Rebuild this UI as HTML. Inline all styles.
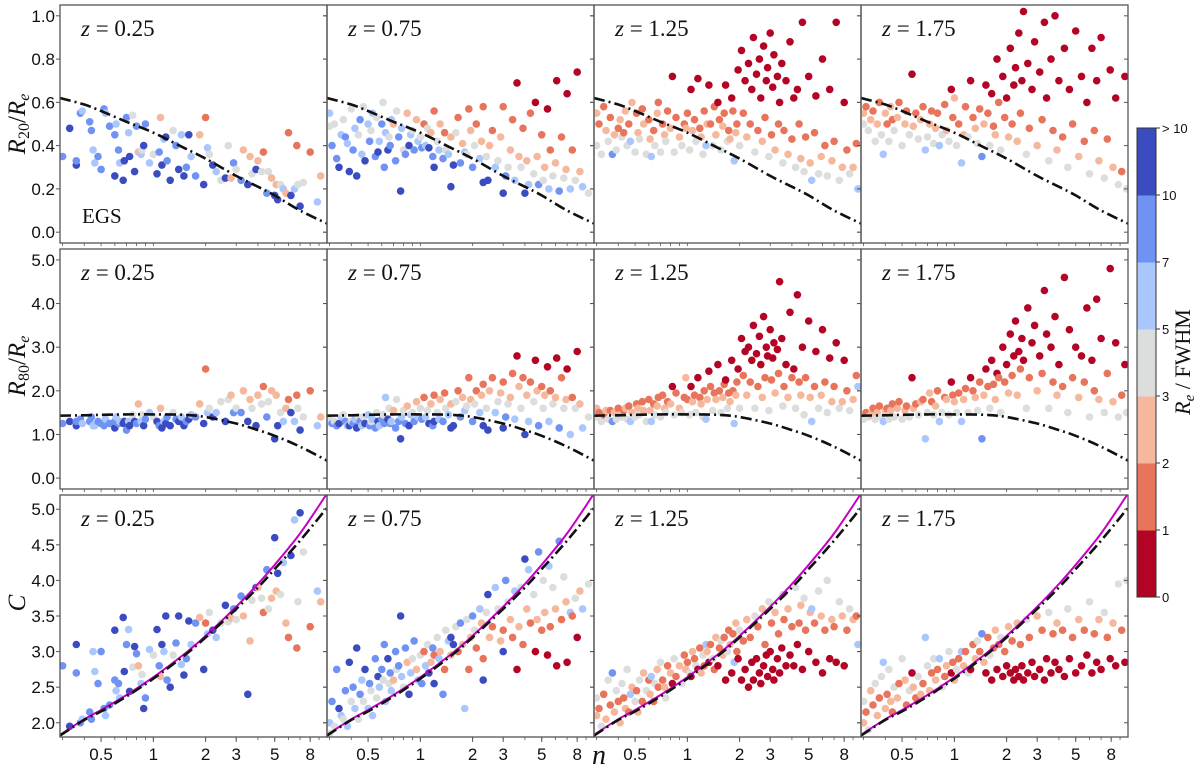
<!DOCTYPE html>
<html><head><meta charset="utf-8"><title>Sersic profile ratios</title>
<style>
html,body{margin:0;padding:0;background:#fff;}
svg{display:block;font-family:"Liberation Sans",sans-serif;}
.serif{font-family:"Liberation Serif",serif;}
</style></head>
<body>
<svg id="chart" width="1200" height="766" viewBox="0 0 1200 766" xmlns="http://www.w3.org/2000/svg"></svg>
<script>
// ---- data: [n, colourClass, R20/Re, R80/Re, C] ; colourClass 0:<1,1:1-2,2:2-3,3:3-5,4:5-7,5:7-10,6:>10
const col0 = [[0.3,5,0.35,1.25,2.8],[0.33,6,0.48,1.3,1.95],[0.36,6,0.31,1.2,3.1],[0.36,5,0.33,1.3,2.7],[0.38,5,0.55,1.35,2.0],[0.39,4,0.56,1.25,2.05],[0.43,5,0.51,1.3,2.15],[0.44,5,0.47,1.4,2.05],[0.45,4,0.38,1.2,3.0],[0.46,4,0.32,1.2,2.72],[0.48,5,0.35,1.3,2.55],[0.5,5,0.29,1.25,3.0],[0.52,5,0.57,1.2,2.2],[0.53,4,0.55,1.35,2.1],[0.56,5,0.49,1.25,2.25],[0.6,6,0.26,1.15,3.3],[0.6,5,0.45,1.3,2.6],[0.61,4,0.5,1.4,2.45],[0.63,5,0.38,1.25,2.55],[0.64,4,0.32,1.3,2.35],[0.67,6,0.24,1.25,3.48],[0.68,6,0.33,1.3,2.72],[0.7,5,0.53,1.1,3.1],[0.72,4,0.46,1.3,3.31],[0.73,6,0.35,1.2,2.44],[0.76,3,0.54,1.45,2.78],[0.78,6,0.28,1.3,3.07],[0.8,5,0.49,1.25,2.97],[0.82,2,0.37,1.7,2.8],[0.85,4,0.36,1.3,2.55],[0.86,3,0.38,1.45,2.68],[0.88,6,0.4,1.2,2.2],[0.9,5,0.5,1.35,2.35],[0.95,4,0.32,1.5,3.03],[1.0,3,0.36,1.4,2.95],[1.05,6,0.27,1.3,3.31],[1.08,5,0.37,1.2,2.8],[1.1,2,0.53,1.6,2.65],[1.12,6,0.31,1.15,3.1],[1.15,4,0.43,1.3,3.0],[1.18,6,0.44,1.25,3.5],[1.2,5,0.33,1.4,2.6],[1.25,6,0.24,1.2,2.5],[1.3,3,0.47,1.5,2.95],[1.35,5,0.4,1.35,3.12],[1.4,6,0.29,1.3,3.5],[1.45,4,0.45,1.4,2.82],[1.5,6,0.26,1.2,2.67],[1.55,5,0.3,1.3,2.9],[1.6,6,0.45,1.35,3.43],[1.65,4,0.35,1.45,3.1],[1.75,5,0.26,1.4,3.4],[1.85,2,0.45,1.7,3.48],[1.95,6,0.22,1.25,2.75],[2.0,1,0.53,2.5,3.4],[2.05,4,0.39,1.5,3.25],[2.1,3,0.36,1.6,3.55],[2.2,6,0.31,1.4,3.3],[2.3,4,0.28,1.5,3.2],[2.45,3,0.24,1.75,3.4],[2.6,6,0.25,1.3,3.65],[2.7,3,0.4,1.8,3.42],[2.8,2,0.25,1.9,3.47],[2.9,5,0.32,1.5,3.6],[3.0,3,0.29,1.6,3.45],[3.2,5,0.24,1.5,3.78],[3.3,2,0.38,2.0,3.5],[3.5,6,0.22,1.3,2.4],[3.6,2,0.35,1.8,3.15],[3.7,3,0.27,1.6,3.72],[3.9,6,0.29,1.2,3.9],[4.0,2,0.33,1.9,3.9],[4.2,3,0.28,1.7,3.75],[4.3,1,0.37,2.1,3.55],[4.5,5,0.18,1.4,4.15],[4.6,3,0.28,1.75,3.6],[4.8,2,0.25,2.0,3.75],[5.0,6,0.17,0.9,4.6],[5.1,2,0.22,1.9,3.85],[5.2,6,0.15,1.2,4.1],[5.4,3,0.22,1.5,3.8],[5.6,4,0.2,1.3,4.25],[5.8,2,0.18,1.6,3.4],[6.0,1,0.46,1.8,3.2],[6.2,6,0.17,1.5,4.35],[6.5,4,0.2,1.3,4.85],[6.7,1,0.4,1.9,3.05],[6.8,3,0.22,1.6,3.7],[7.0,6,0.12,1.1,4.95],[7.3,3,0.23,1.4,4.4],[8.0,1,0.37,2.0,3.35],[8.8,4,0.14,1.2,3.85],[9.2,2,0.26,1.4,3.7]];
const col1 = [[0.3,4,0.55,1.3,2.0],[0.3,3,0.49,1.35,1.85],[0.31,5,0.4,1.25,2.3],[0.32,3,0.5,1.3,1.95],[0.33,5,0.34,1.2,2.75],[0.34,6,0.3,1.25,2.2],[0.35,4,0.45,1.4,2.1],[0.36,3,0.52,1.45,2.05],[0.37,5,0.44,1.3,2.45],[0.38,4,0.41,1.2,1.95],[0.39,6,0.28,1.2,2.85],[0.4,3,0.57,1.3,2.3],[0.41,5,0.38,1.25,2.5],[0.42,4,0.48,1.35,2.2],[0.43,6,0.26,1.15,3.05],[0.44,3,0.45,1.4,2.05],[0.45,5,0.52,1.3,2.4],[0.46,4,0.36,1.2,2.6],[0.47,3,0.58,1.4,2.3],[0.48,6,0.33,1.25,2.75],[0.5,4,0.5,1.45,2.2],[0.51,5,0.42,1.2,2.55],[0.52,3,0.47,1.3,2.45],[0.53,4,0.55,1.35,2.1],[0.55,5,0.35,1.15,2.9],[0.56,3,0.53,1.5,2.35],[0.57,6,0.37,1.3,2.65],[0.58,4,0.42,1.2,2.5],[0.6,5,0.5,1.35,2.75],[0.61,3,0.6,1.45,2.6],[0.62,5,0.3,1.25,3.1],[0.63,4,0.46,1.85,2.3],[0.65,6,0.38,1.35,2.9],[0.66,3,0.44,1.6,2.55],[0.67,5,0.4,1.25,2.7],[0.68,4,0.52,1.3,2.45],[0.7,2,0.5,1.55,2.6],[0.72,5,0.33,1.15,3.0],[0.73,3,0.56,1.8,2.75],[0.75,5,0.44,1.3,2.8],[0.77,6,0.19,0.9,3.5],[0.78,4,0.48,1.4,2.65],[0.8,3,0.38,1.55,2.5],[0.82,5,0.36,1.25,3.05],[0.84,2,0.55,1.65,2.85],[0.86,6,0.4,1.2,2.4],[0.88,4,0.45,1.45,2.7],[0.9,3,0.47,1.5,2.9],[0.92,5,0.38,1.3,3.15],[0.95,2,0.52,1.75,2.75],[0.97,4,0.42,1.4,2.6],[1.0,3,0.44,1.6,2.95],[1.02,5,0.39,1.35,2.55],[1.05,1,0.5,1.85,3.0],[1.07,4,0.4,1.4,2.8],[1.1,3,0.48,1.55,3.1],[1.12,6,0.39,1.25,2.7],[1.15,2,0.46,1.7,2.85],[1.18,5,0.35,1.2,3.05],[1.2,1,0.56,1.9,2.95],[1.2,6,0.3,1.3,2.55],[1.25,3,0.42,1.5,3.2],[1.28,4,0.38,1.35,2.9],[1.3,2,0.5,1.8,3.0],[1.35,5,0.34,1.3,2.4],[1.38,1,0.46,1.95,2.75],[1.4,3,0.38,1.6,3.3],[1.45,4,0.36,1.45,3.15],[1.5,2,0.44,1.7,2.95],[1.5,6,0.21,1.15,3.2],[1.55,6,0.31,1.2,3.1],[1.6,3,0.46,1.75,3.35],[1.65,1,0.53,2.0,3.0],[1.7,5,0.32,1.4,3.4],[1.75,2,0.41,1.85,3.1],[1.8,4,0.37,1.55,2.2],[1.85,3,0.36,1.65,3.45],[1.9,1,0.57,2.3,2.75],[1.95,2,0.47,1.8,3.2],[2.0,5,0.3,1.3,3.5],[2.05,3,0.4,1.7,3.3],[2.1,1,0.5,2.0,3.05],[2.2,4,0.34,1.5,3.6],[2.25,2,0.42,1.9,3.4],[2.3,1,0.58,2.15,2.9],[2.3,6,0.23,1.2,2.6],[2.4,3,0.35,1.6,3.55],[2.45,6,0.24,1.1,3.8],[2.5,2,0.4,2.0,3.2],[2.6,1,0.47,2.3,3.35],[2.7,4,0.3,1.5,3.9],[2.8,3,0.33,1.75,3.6],[2.9,2,0.44,1.95,3.15],[3.0,1,0.58,2.2,3.3],[3.0,6,0.18,1.15,3.0],[3.1,5,0.26,1.4,4.0],[3.2,3,0.3,1.7,3.7],[3.3,2,0.38,1.85,3.45],[3.4,1,0.52,2.4,3.2],[3.5,4,0.24,1.35,3.85],[3.6,0,0.69,2.8,2.75],[3.7,2,0.35,2.1,3.35],[3.8,3,0.3,1.6,3.9],[3.9,1,0.48,2.3,3.1],[4.0,6,0.18,1.0,4.3],[4.1,2,0.33,1.9,3.6],[4.2,4,0.22,1.3,4.15],[4.3,1,0.55,2.2,3.4],[4.5,3,0.27,1.75,3.8],[4.6,0,0.6,2.7,3.0],[4.7,2,0.35,2.0,3.45],[4.8,5,0.22,1.2,4.4],[5.0,1,0.45,2.1,3.3],[5.1,3,0.24,1.6,4.0],[5.2,2,0.3,1.9,3.55],[5.4,0,0.57,2.55,2.95],[5.5,4,0.2,1.3,4.2],[5.6,1,0.38,2.0,3.35],[5.8,3,0.26,1.7,3.9],[6.0,2,0.32,1.85,3.6],[6.1,0,0.7,2.75,2.8],[6.3,5,0.19,1.15,4.55],[6.5,1,0.44,2.3,3.45],[6.7,3,0.25,1.6,4.05],[6.9,2,0.29,1.8,3.7],[7.0,0,0.64,2.5,2.85],[7.3,4,0.2,1.0,3.55],[7.5,1,0.38,1.85,3.5],[7.8,3,0.24,1.6,3.75],[8.0,0,0.74,2.9,3.2],[8.3,2,0.28,1.7,3.85],[8.6,4,0.21,1.15,3.6],[9.3,3,0.18,1.4,3.95]];
const col2 = [[0.3,3,0.4,1.4,2.35],[0.3,2,0.55,1.6,2.1],[0.31,1,0.5,1.5,2.2],[0.32,3,0.36,1.3,1.95],[0.33,1,0.58,1.45,2.4],[0.34,2,0.47,1.55,2.05],[0.35,3,0.42,1.35,2.6],[0.36,1,0.53,1.55,2.25],[0.37,5,0.36,1.3,2.7],[0.38,2,0.45,1.5,2.15],[0.39,3,0.38,1.35,2.45],[0.4,1,0.48,1.6,2.3],[0.41,2,0.52,1.45,2.0],[0.42,3,0.44,1.4,2.55],[0.43,1,0.46,1.55,2.35],[0.44,2,0.56,1.6,2.2],[0.45,3,0.4,1.35,2.75],[0.46,1,0.5,1.65,2.15],[0.47,4,0.42,1.3,2.4],[0.48,2,0.6,1.5,2.5],[0.5,3,0.37,1.4,2.3],[0.51,1,0.55,1.7,2.45],[0.52,2,0.46,1.6,2.15],[0.53,3,0.43,1.45,2.6],[0.55,1,0.57,1.75,2.3],[0.56,2,0.5,1.55,2.7],[0.58,3,0.36,1.3,2.45],[0.6,1,0.52,1.8,2.6],[0.61,2,0.43,1.55,2.4],[0.62,4,0.35,1.3,2.65],[0.64,1,0.47,1.7,2.3],[0.65,3,0.4,1.45,2.55],[0.67,2,0.55,1.65,2.75],[0.68,1,0.6,1.85,2.5],[0.7,3,0.37,1.4,2.85],[0.72,1,0.5,1.9,2.6],[0.74,2,0.45,1.6,2.5],[0.75,3,0.42,1.5,2.35],[0.77,1,0.56,1.75,2.8],[0.8,2,0.48,1.7,2.7],[0.82,0,0.72,2.1,2.55],[0.84,3,0.37,1.45,2.9],[0.86,1,0.53,1.95,2.65],[0.9,2,0.44,1.6,2.8],[0.93,3,0.4,1.5,2.55],[0.96,1,0.5,1.85,2.95],[0.98,2,0.48,2.3,2.75],[1.0,1,0.55,1.8,2.85],[1.03,3,0.38,1.45,2.7],[1.05,0,0.66,2.1,2.65],[1.07,2,0.47,1.75,3.0],[1.1,1,0.52,1.9,2.9],[1.12,3,0.42,1.5,2.8],[1.15,0,0.71,2.3,2.75],[1.18,1,0.48,1.85,3.05],[1.2,2,0.44,1.7,2.7],[1.23,3,0.36,1.4,2.95],[1.25,1,0.56,2.0,2.8],[1.28,4,0.4,1.35,3.1],[1.3,2,0.5,1.8,3.0],[1.33,0,0.68,2.45,2.85],[1.36,1,0.5,2.1,3.1],[1.4,3,0.4,1.55,2.9],[1.43,1,0.58,1.95,2.75],[1.46,2,0.45,1.8,3.2],[1.5,0,0.6,2.6,2.8],[1.53,1,0.52,2.0,3.05],[1.56,3,0.38,1.5,3.15],[1.6,2,0.49,1.85,2.95],[1.63,1,0.55,2.15,3.2],[1.66,0,0.68,2.25,2.6],[1.7,3,0.42,1.6,3.0],[1.73,1,0.47,1.95,3.3],[1.76,2,0.43,1.75,3.1],[1.8,0,0.62,2.7,2.7],[1.83,1,0.56,2.0,3.25],[1.86,4,0.33,1.25,2.85],[1.9,2,0.46,1.9,3.4],[1.93,1,0.5,2.2,3.0],[1.96,0,0.75,2.5,2.9],[2.0,3,0.4,1.6,3.3],[2.05,0,0.84,3.2,2.6],[2.1,1,0.55,2.35,3.15],[2.15,0,0.7,2.9,2.75],[2.2,2,0.44,1.9,3.45],[2.25,0,0.78,3.0,2.5],[2.3,1,0.5,2.2,3.2],[2.35,0,0.66,2.7,2.85],[2.4,0,0.9,3.5,2.6],[2.45,3,0.37,1.6,3.5],[2.5,0,0.73,2.85,2.9],[2.55,1,0.47,2.1,3.35],[2.6,0,0.8,3.25,2.7],[2.65,0,0.62,2.6,2.55],[2.7,2,0.42,1.85,3.6],[2.75,0,0.86,3.7,2.8],[2.8,1,0.53,2.3,3.1],[2.85,0,0.7,3.0,2.95],[2.9,0,0.76,2.8,2.65],[2.95,3,0.35,1.55,3.7],[3.0,0,0.92,3.4,3.0],[3.05,1,0.45,2.25,3.4],[3.1,0,0.67,2.75,2.75],[3.15,0,0.82,3.1,2.6],[3.2,2,0.38,1.95,3.55],[3.3,0,0.72,2.95,2.9],[3.35,1,0.5,2.4,3.25],[3.4,0,0.6,4.5,2.7],[3.5,0,0.78,3.2,3.05],[3.55,3,0.32,1.65,3.8],[3.6,1,0.47,2.1,3.45],[3.7,0,0.7,2.6,2.8],[3.8,2,0.36,1.85,3.6],[3.9,0,0.88,3.8,2.95],[4.0,1,0.43,2.3,3.35],[4.1,0,0.62,2.5,2.8],[4.2,3,0.3,1.6,3.9],[4.3,0,0.66,4.2,3.1],[4.4,1,0.5,2.2,3.4],[4.5,2,0.34,1.9,3.65],[4.6,0,0.97,3.0,2.75],[4.7,3,0.28,1.45,3.75],[4.8,1,0.44,2.3,3.3],[5.0,0,0.72,3.6,3.0],[5.1,2,0.32,1.85,3.55],[5.2,4,0.24,1.3,3.6],[5.4,1,0.46,2.1,3.4],[5.5,0,0.63,2.9,2.85],[5.7,3,0.27,1.6,3.85],[5.9,2,0.35,1.9,3.5],[6.0,0,0.8,3.4,2.7],[6.2,1,0.4,2.2,3.3],[6.4,3,0.26,1.5,4.0],[6.6,0,0.66,2.75,2.9],[6.8,2,0.33,1.75,3.45],[7.0,1,0.42,2.1,3.35],[7.2,0,0.97,3.1,2.85],[7.5,3,0.24,1.6,3.7],[7.8,2,0.3,1.75,3.5],[8.0,0,0.6,2.7,2.8],[8.3,1,0.38,2.0,3.3],[8.6,3,0.27,1.55,3.6],[9.0,2,0.3,1.8,3.45],[9.4,1,0.41,2.35,3.5],[9.6,4,0.2,2.1,3.1]];
const col3 = [[0.3,2,0.55,1.4,2.0],[0.3,3,0.5,1.35,2.3],[0.31,1,0.58,1.5,2.15],[0.32,3,0.47,1.4,1.9],[0.33,2,0.52,1.45,2.45],[0.34,1,0.56,1.6,2.25],[0.35,3,0.42,1.35,2.55],[0.36,2,0.5,1.5,2.1],[0.37,1,0.6,1.65,2.35],[0.38,3,0.45,1.4,2.65],[0.39,4,0.36,1.3,2.85],[0.4,2,0.55,1.55,2.2],[0.41,1,0.5,1.6,2.4],[0.42,3,0.42,1.35,2.75],[0.43,2,0.58,1.55,2.3],[0.44,1,0.52,1.7,2.15],[0.45,3,0.47,1.4,2.5],[0.47,2,0.53,1.6,2.35],[0.48,1,0.6,1.75,2.55],[0.5,3,0.4,1.35,2.9],[0.52,2,0.5,1.55,2.6],[0.53,1,0.56,1.65,2.25],[0.55,3,0.45,1.4,2.45],[0.57,0,0.73,2.3,2.7],[0.58,2,0.49,1.6,2.5],[0.6,1,0.55,1.7,2.35],[0.62,3,0.43,1.45,2.65],[0.64,2,0.52,1.75,2.4],[0.66,1,0.58,1.8,2.55],[0.68,4,0.38,0.9,3.2],[0.7,3,0.44,1.5,2.8],[0.72,2,0.5,1.95,2.45],[0.74,1,0.56,1.75,2.7],[0.76,3,0.41,1.45,2.9],[0.78,2,0.48,1.65,2.6],[0.8,1,0.55,2.0,2.75],[0.82,4,0.4,1.3,2.9],[0.85,3,0.45,1.5,2.5],[0.88,1,0.59,1.85,2.65],[0.9,2,0.47,1.8,2.8],[0.93,3,0.42,1.45,3.0],[0.96,0,0.66,2.2,2.7],[0.98,1,0.53,1.9,2.85],[1.0,2,0.62,1.75,2.6],[1.03,3,0.4,1.5,2.75],[1.06,1,0.5,1.95,2.9],[1.1,4,0.32,1.3,3.0],[1.13,2,0.45,1.8,2.8],[1.16,1,0.58,2.05,3.0],[1.2,3,0.44,1.5,2.7],[1.24,0,0.7,2.3,2.75],[1.28,1,0.53,2.0,3.1],[1.32,2,0.48,1.85,2.9],[1.36,3,0.41,1.55,3.15],[1.4,1,0.57,2.2,3.0],[1.44,5,0.35,0.9,3.25],[1.48,2,0.5,1.9,2.85],[1.52,0,0.68,2.5,2.7],[1.56,1,0.55,2.1,3.2],[1.6,3,0.4,1.6,2.95],[1.64,0,0.64,2.7,2.6],[1.68,1,0.49,2.15,3.05],[1.72,2,0.45,1.8,3.3],[1.76,0,0.8,2.4,2.75],[1.8,1,0.6,2.3,3.1],[1.85,3,0.38,1.5,3.2],[1.9,0,0.72,3.0,2.65],[1.95,1,0.53,2.2,3.0],[2.0,0,0.62,2.6,2.8],[2.05,2,0.44,1.95,3.35],[2.1,0,0.85,3.3,2.7],[2.15,1,0.5,2.35,3.15],[2.2,0,0.68,2.8,2.6],[2.25,0,0.76,3.6,2.75],[2.3,2,0.42,1.9,3.4],[2.35,0,0.92,2.9,2.65],[2.4,1,0.55,2.5,3.1],[2.45,0,0.7,3.2,2.8],[2.5,0,1.02,2.7,2.6],[2.6,3,0.36,1.6,3.45],[2.65,0,0.78,3.9,2.7],[2.7,1,0.48,2.3,3.2],[2.8,0,0.66,3.1,2.85],[2.9,0,0.88,3.5,2.65],[3.0,2,0.4,2.0,3.5],[3.1,0,0.74,2.8,2.75],[3.2,1,0.52,2.4,3.3],[3.3,0,0.97,4.3,2.6],[3.4,0,0.62,3.3,2.9],[3.5,3,0.33,1.6,3.55],[3.6,0,0.8,3.0,2.7],[3.7,1,0.47,2.2,3.25],[3.8,0,1.0,3.7,2.85],[3.9,2,0.38,1.9,3.4],[4.0,0,0.7,2.6,2.75],[4.2,1,0.44,2.1,3.3],[4.3,0,0.85,4.6,2.65],[4.5,3,0.3,1.5,3.6],[4.6,0,0.66,3.4,2.9],[4.8,1,0.5,2.3,3.2],[5.0,0,0.93,3.0,2.7],[5.2,2,0.35,1.85,3.45],[5.4,0,0.72,2.8,2.8],[5.6,1,0.42,2.2,3.3],[5.8,0,0.6,3.9,2.95],[6.0,3,0.27,1.4,3.7],[6.2,0,0.85,2.7,2.7],[6.4,1,0.47,2.0,3.25],[6.6,0,0.7,4.1,2.85],[6.8,2,0.33,1.8,3.45],[7.0,0,0.9,3.2,2.75],[7.3,3,0.25,1.5,3.55],[7.6,1,0.43,2.4,3.2],[7.9,0,0.75,4.8,2.9],[8.2,2,0.3,1.75,3.4],[8.5,0,0.62,3.1,2.8],[8.8,3,0.22,1.4,3.95],[9.2,1,0.28,1.9,3.3],[9.6,0,0.72,2.6,2.85],[9.8,3,0.2,1.5,4.0]];
const columns = [col0, col1, col2, col3];
const redshifts = ["0.25", "0.75", "1.25", "1.75"];
// model curves
const curveN   = [0.29, 0.4, 0.5, 0.7, 1, 1.5, 2, 3, 4, 5, 7, 10];
const curveR20 = [0.62, 0.59, 0.56, 0.51, 0.46, 0.39, 0.34, 0.26, 0.21, 0.17, 0.1, 0.04];
const curveR80 = [1.43, 1.44, 1.45, 1.46, 1.46, 1.45, 1.4, 1.25, 1.1, 0.97, 0.72, 0.4];
const curveC   = [1.82, 2.04, 2.16, 2.37, 2.62, 2.94, 3.2, 3.6, 3.9, 4.16, 4.56, 5.02];
const curveCm  = [1.83, 2.05, 2.18, 2.39, 2.64, 2.96, 3.22, 3.63, 3.95, 4.22, 4.66, 5.22];
// axes
const xTickVals = [0.5, 1, 2, 3, 5, 8];
const xTickLabels = ["0.5", "1", "2", "3", "5", "8"];
const yTicks = [[0,0.2,0.4,0.6,0.8,1.0],[0,1,2,3,4,5],[2,2.5,3,3.5,4,4.5,5]];
const yTickLabels = [["0.0","0.2","0.4","0.6","0.8","1.0"],["0.0","1.0","2.0","3.0","4.0","5.0"],["2.0","2.5","3.0","3.5","4.0","4.5","5.0"]];
const cbLabels = ["0","1","2","3","5","7","10","> 10"];
const palette = ["#b40426","#e7745b","#f6b89c","#dcdddd","#aac7fd","#6f92f3","#3b4cc0"];

const NS="http://www.w3.org/2000/svg";
const svg=document.getElementById('chart');
function mk(tag,attrs,parent){const e=document.createElementNS(NS,tag);for(const k in attrs)e.setAttribute(k,attrs[k]);(parent||svg).appendChild(e);return e;}

const colX=[60,327,594,861,1128];
const rowY=[[5,243],[249,489],[495,737]];
const yDom=[[-0.05,1.05],[-0.25,5.25],[1.8,5.2]];
const xMin=Math.log10(0.29), xMax=Math.log10(10);
function xs(c,n){return colX[c]+(Math.log10(n)-xMin)/(xMax-xMin)*(colX[c+1]-colX[c]);}
function ys(r,v){const [t,b]=rowY[r],[lo,hi]=yDom[r];return b-(v-lo)/(hi-lo)*(b-t);}
function smoothPath(P){
  let d=`M${P[0][0].toFixed(1)},${P[0][1].toFixed(1)}`;
  for(let i=0;i<P.length-1;i++){
    const p0=P[Math.max(0,i-1)],p1=P[i],p2=P[i+1],p3=P[Math.min(P.length-1,i+2)];
    const c1x=p1[0]+(p2[0]-p0[0])/6,c1y=p1[1]+(p2[1]-p0[1])/6;
    const c2x=p2[0]-(p3[0]-p1[0])/6,c2y=p2[1]-(p3[1]-p1[1])/6;
    d+=` C${c1x.toFixed(1)},${c1y.toFixed(1)} ${c2x.toFixed(1)},${c2y.toFixed(1)} ${p2[0].toFixed(1)},${p2[1].toFixed(1)}`;
  }
  return d;
}

const defs=mk('defs',{});
const rowVals=[2,3,4];
for(let r=0;r<3;r++){
  for(let c=0;c<4;c++){
    const cp=mk('clipPath',{id:`cp${r}${c}`},defs);
    mk('rect',{x:colX[c],y:rowY[r][0],width:colX[c+1]-colX[c],height:rowY[r][1]-rowY[r][0]},cp);
    const g=mk('g',{'clip-path':`url(#cp${r}${c})`});
    
    
    columns[c].forEach(d=>{
      const p=mk('circle',{cx:xs(c,d[0]).toFixed(1),cy:ys(r,d[rowVals[r]]).toFixed(1),r:3.8,fill:palette[d[1]]},g);
      
      
    });
    const vals=[curveR20,curveR80,curveC][r];
    const pts=curveN.map((n,i)=>[xs(c,n),ys(r,vals[i])]);
    if(r===2){
      const pts2=curveN.map((n,i)=>[xs(c,n),ys(r,curveCm[i])]);
      const m=mk('path',{d:smoothPath(pts2),fill:'none',stroke:'#c400c4','stroke-width':2},g);
      
      
    }
    const l=mk('path',{d:smoothPath(pts),fill:'none',stroke:'#111','stroke-width':2.6,'stroke-dasharray':'11,4,2,4'},g);
    
    
    const fr=mk('rect',{x:colX[c],y:rowY[r][0],width:colX[c+1]-colX[c],height:rowY[r][1]-rowY[r][0],fill:'none',stroke:'#555','stroke-width':1.3});
    
    
    for(let d=0.3;d<10;){
      const x=xs(c,d);
      mk('line',{x1:x,x2:x,y1:rowY[r][1],y2:rowY[r][1]+3,stroke:'#555','stroke-width':0.8});
      const dec=Math.pow(10,Math.floor(Math.log10(d)+1e-9));d=Math.round((d+dec)*100)/100;
    }
    yTicks[r].forEach(v=>{
      const y=ys(r,v);
      mk('line',{x1:colX[c]-4,x2:colX[c],y1:y,y2:y,stroke:'#555','stroke-width':1});
      mk('line',{x1:colX[c+1]-4,x2:colX[c+1],y1:y,y2:y,stroke:'#555','stroke-width':1});
    });
    const zt=mk('text',{x:colX[c]+21,y:rowY[r][0]+31,'font-size':23,class:'serif',fill:'#111'});
    
    
    zt.innerHTML=`<tspan font-style="italic">z</tspan> = ${redshifts[c]}`;
  }
  yTicks[r].forEach((v,i)=>{
    const t=mk('text',{x:55,y:ys(r,v)+6,'text-anchor':'end','font-size':17,fill:'#111'});
    
    
    t.textContent=yTickLabels[r][i];
  });
}
for(let c=0;c<4;c++){
  xTickVals.forEach((v,i)=>{
    const x=xs(c,v);
    mk('line',{x1:x,x2:x,y1:737,y2:742,stroke:'#555','stroke-width':1});
    const t=mk('text',{x:x,y:760,'text-anchor':'middle','font-size':17,fill:'#111'});
    
    
    t.textContent=xTickLabels[i];
  });
}
const egs=mk('text',{x:82,y:223,'font-size':21,class:'serif',fill:'#111'});


egs.textContent='EGS';
const yTitles=[['20',124],['80',366],['',603]];
yTitles.forEach((t,i)=>{
  const el=mk('text',{x:0,y:0,transform:`translate(25,${t[1]}) rotate(-90)`,'text-anchor':'middle','font-size':25,class:'serif',fill:'#111'});
  
  
  if(i<2) el.innerHTML=`<tspan font-style="italic">R</tspan><tspan font-size="16" dy="4">${t[0]}</tspan><tspan dy="-4">/</tspan><tspan font-style="italic">R</tspan><tspan font-size="16" font-style="italic" dy="4">e</tspan>`;
  else el.innerHTML=`<tspan font-style="italic">C</tspan>`;
});
const nt=mk('text',{x:599,y:764,'text-anchor':'middle','font-size':28,class:'serif','font-style':'italic',fill:'#111'});


nt.textContent='n';
const cbTop=128,cbBot=597,cbX=1137,cbW=19,band=(cbBot-cbTop)/7;
for(let i=0;i<7;i++){
  const r=mk('rect',{x:cbX,y:cbBot-(i+1)*band,width:cbW,height:band+0.5,fill:palette[i]});
  
  
}
mk('rect',{x:cbX,y:cbTop,width:cbW,height:cbBot-cbTop,fill:'none',stroke:'#333','stroke-width':1});
cbLabels.forEach((s,i)=>{
  const y=cbBot-i*band;
  mk('line',{x1:cbX+cbW,x2:cbX+cbW+4,y1:y,y2:y,stroke:'#333'});
  const t=mk('text',{x:cbX+cbW+6,y:y+5,'font-size':13,fill:'#111'});
  
  
  t.textContent=s;
});
const cbt=mk('text',{x:0,y:0,transform:'translate(1190,362) rotate(-90)','text-anchor':'middle','font-size':22,class:'serif',fill:'#111'});


cbt.innerHTML='<tspan font-style="italic">R</tspan><tspan font-size="15" font-style="italic" dy="4">e</tspan><tspan dy="-4"> / FWHM</tspan>';
</script>
</body></html>
